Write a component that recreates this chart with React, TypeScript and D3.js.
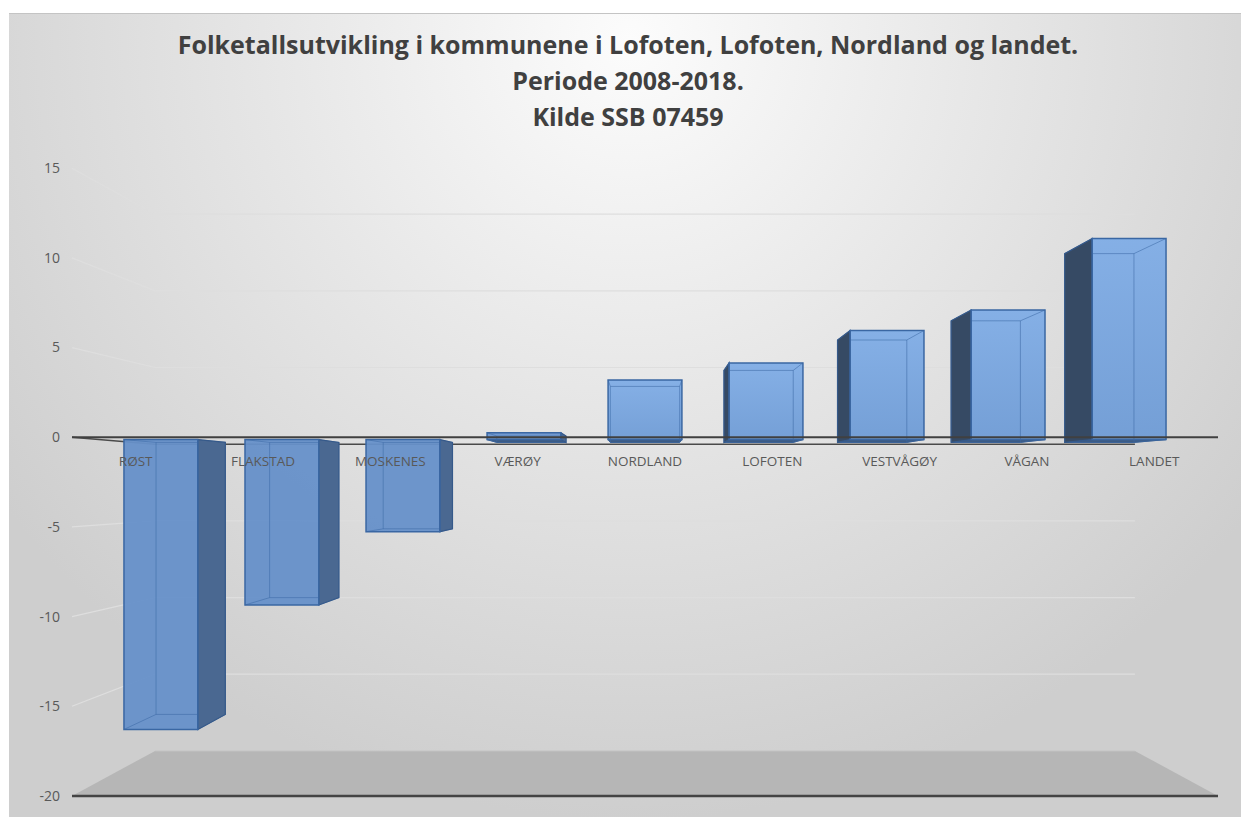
import React from 'react';
import * as d3 from 'd3';

const categories = ['RØST', 'FLAKSTAD', 'MOSKENES', 'VÆRØY', 'NORDLAND', 'LOFOTEN', 'VESTVÅGØY', 'VÅGAN', 'LANDET'];
const growth = [-17.0, -9.7, -5.4, 0.4, 3.5, 4.5, 6.4, 7.6, 11.8];
const yTicks = [-20, -15, -10, -5, 0, 5, 10, 15];
const titleLines = [
  'Folketallsutvikling i kommunene i Lofoten, Lofoten, Nordland og landet.',
  'Periode 2008-2018.',
  'Kilde SSB 07459',
];

const W = 1241;
const H = 817;

// front plane of the 3d box
const x = d3.scaleBand<string>().domain(categories).range([72, 1218]).paddingInner(0.39).paddingOuter(0.195);
const y = d3.scaleLinear().domain([-20, 15]).range([796, 168.2]);

// perspective: everything shrinks towards the vanishing point with depth
const VP: [number, number] = [645, 485];
const S_BAR_FRONT = 0.9505;
const S_BAR_BACK = 0.892;
const S_WALL = 0.855;
const proj = (px: number, py: number, s: number): [number, number] => [
  VP[0] + (px - VP[0]) * s,
  VP[1] + (py - VP[1]) * s,
];
const pts = (a: [number, number][]) => a.map((p) => p.join(',')).join(' ');

const font = "'Open Sans', 'DejaVu Sans', sans-serif";

export default function App() {
  const xL = x.range()[0];
  const xR = x.range()[1];
  const y0 = y(0);
  const yFloor = y(-20);

  const bars = categories.map((c, i) => {
    const v = growth[i];
    const x0 = x(c)!;
    const x1 = x0 + x.bandwidth();
    const yt = y(Math.max(0, v));
    const yb = y(Math.min(0, v));
    const f = [proj(x0, yt, S_BAR_FRONT), proj(x1, yt, S_BAR_FRONT), proj(x1, yb, S_BAR_FRONT), proj(x0, yb, S_BAR_FRONT)];
    const b = [proj(x0, yt, S_BAR_BACK), proj(x1, yt, S_BAR_BACK), proj(x1, yb, S_BAR_BACK), proj(x0, yb, S_BAR_BACK)];
    const cx = (x0 + x1) / 2;
    const leftOfEye = cx < VP[0] - 1;
    const rightOfEye = cx > VP[0] + 1;
    let side: [number, number][] | null = null;
    if (leftOfEye) side = [f[1], b[1], b[2], f[2]];
    if (rightOfEye) side = [f[0], b[0], b[3], f[3]];
    const bottom = yb < VP[1] ? [f[3], f[2], b[2], b[3]] : null;
    const front = leftOfEye && v < 0 ? '#6690c9' : leftOfEye ? '#6a95cf' : 'url(#frontPos)';
    const sideCol = leftOfEye ? '#4a6891' : '#364a64';
    return { c, f, b, side, bottom, front, sideCol };
  });

  return (
    <svg width={W} height={H} style={{ position: 'absolute', left: 0, top: 0, display: 'block' }}>
      <defs>
        <radialGradient id="bg" gradientUnits="userSpaceOnUse" cx={630} cy={40} r={780}>
          <stop offset="0" stopColor="#fcfcfc" />
          <stop offset="0.45" stopColor="#e7e7e7" />
          <stop offset="1" stopColor="#cecece" />
        </radialGradient>
        <linearGradient id="frontPos" x1="0" y1="0" x2="0" y2="1">
          <stop offset="0" stopColor="#80ade6" />
          <stop offset="1" stopColor="#6f9cd6" />
        </linearGradient>
      </defs>
      <rect x={0} y={0} width={W} height={H} fill="#ffffff" />
      <rect x={9} y={13} width={W - 9} height={H - 13} fill="url(#bg)" />
      <line x1={9} x2={W} y1={13.5} y2={13.5} stroke="#c4c4c4" strokeWidth={1} />

      {/* floor */}
      <polygon
        points={pts([[xL, yFloor], [xR, yFloor], proj(xR, yFloor, S_WALL), proj(xL, yFloor, S_WALL)])}
        fill="#b6b6b6"
      />
      <line
        x1={proj(xL, yFloor, S_WALL)[0]} x2={proj(xR, yFloor, S_WALL)[0]}
        y1={proj(xL, yFloor, S_WALL)[1]} y2={proj(xR, yFloor, S_WALL)[1]}
        stroke="#c6c6c6" strokeWidth={1}
      />

      {/* gridlines: side wall + back wall */}
      {yTicks.filter((t) => t !== 0 && t !== -20).map((t) => {
        const a: [number, number] = [xL, y(t)];
        const b = proj(xL, y(t), S_WALL);
        const c = proj(xR, y(t), S_WALL);
        return <polyline key={t} points={pts([a, b, c])} fill="none" stroke="#dedede" strokeWidth={1.2} />;
      })}
      <polyline
        points={pts([[xL, y0], proj(xL, y0, S_WALL), proj(xR, y0, S_WALL)])}
        fill="none" stroke="#4a4a4a" strokeWidth={1.5}
      />

      {/* bars */}
      {bars.map((d) => (
        <g key={d.c}>
          {d.bottom && <polygon points={pts(d.bottom)} fill="#3e5c84" stroke="#35598a" strokeWidth={1} />}
          <polygon points={pts(d.f)} fill={d.front} fillOpacity={0.95} />
          <polygon points={pts(d.b)} fill="none" stroke="#3d6aa6" strokeOpacity={0.55} strokeWidth={1} />
          {[0, 1, 2, 3].map((k) => (
            <line key={k} x1={d.f[k][0]} y1={d.f[k][1]} x2={d.b[k][0]} y2={d.b[k][1]}
              stroke="#3d6aa6" strokeOpacity={0.55} strokeWidth={1} />
          ))}
          {d.side && <polygon points={pts(d.side)} fill={d.sideCol} stroke="#35598a" strokeWidth={1.2} />}
          <polygon points={pts(d.f)} fill="none" stroke="#3a67a3" strokeWidth={1.5} />
        </g>
      ))}

      {/* front zero axis and floor edge */}
      <line x1={xL} x2={xR} y1={y0} y2={y0} stroke="#404040" strokeWidth={2} />
      <line x1={xL} x2={xR} y1={yFloor} y2={yFloor} stroke="#444444" strokeWidth={2.5} />

      {/* value axis labels */}
      {yTicks.map((t) => (
        <text key={t} x={60} y={y(t)} dy="0.35em" textAnchor="end" fontFamily={font} fontSize={14} fill="#595959">
          {t}
        </text>
      ))}

      {/* category labels */}
      {categories.map((c) => (
        <text key={c} x={x(c)! + x.bandwidth() / 2} y={466} textAnchor="middle" fontFamily={font} fontSize={13.5} fill="#595959">
          {c}
        </text>
      ))}

      {/* title */}
      {titleLines.map((t, i) => (
        <text key={i} x={628} y={54 + i * 36} textAnchor="middle" fontFamily={font} fontWeight="bold" fontSize={25} fill="#404040">
          {t}
        </text>
      ))}
    </svg>
  );
}
